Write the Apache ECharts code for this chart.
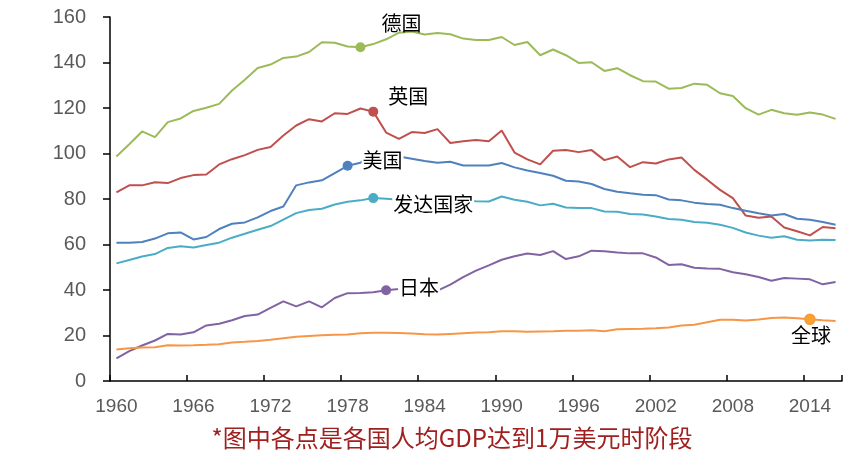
<!DOCTYPE html>
<html>
<head>
<meta charset="utf-8">
<script src="https://cdn.jsdelivr.net/npm/echarts@6/dist/echarts.min.js"></script>
<style>
  html, body { margin: 0; padding: 0; background: #fff; }
  #chart { width: 863px; height: 453px; }
</style>
</head>
<body>
<div id="chart"></div>
<script>
var years = ['1960','1961','1962','1963','1964','1965','1966','1967','1968','1969',
  '1970','1971','1972','1973','1974','1975','1976','1977','1978','1979',
  '1980','1981','1982','1983','1984','1985','1986','1987','1988','1989',
  '1990','1991','1992','1993','1994','1995','1996','1997','1998','1999',
  '2000','2001','2002','2003','2004','2005','2006','2007','2008','2009',
  '2010','2011','2012','2013','2014','2015','2016'];

var germany = [98.7,104.1,109.7,107.2,113.8,115.4,118.7,120.1,121.8,127.7,
  132.4,137.6,139.1,142,142.6,144.6,148.9,148.7,147,146.7,
  148.1,150.2,153.1,153.6,152.3,153,152.4,150.5,149.9,149.9,
  151.2,147.7,149,143.2,145.7,143.2,139.8,140.1,136.3,137.5,
  134.4,131.8,131.6,128.5,128.8,130.7,130.2,126.5,125.3,119.9,
  117.1,119.2,117.7,117,118,117.1,115.2];

var uk = [82.9,86,86,87.4,87,89.2,90.5,90.8,95.2,97.5,
  99.3,101.6,102.9,107.9,112.3,115.1,114.1,117.7,117.4,119.8,
  118.4,109.2,106.4,109.4,109,110.7,104.6,105.4,105.9,105.4,
  110.1,100.4,97.4,95.2,101.2,101.5,100.6,101.5,97.1,98.7,
  94,96.2,95.6,97.4,98.2,92.8,88.5,84,80.4,72.7,
  71.8,72.3,67.5,65.8,64,67.7,67.1];

var usa = [60.8,60.8,61.1,62.6,64.9,65.3,62.2,63.3,66.8,69.1,
  69.7,71.9,74.7,76.7,86,87.3,88.2,91.4,94.6,95.9,
  100.2,99.9,98.7,97.7,96.7,95.9,96.4,94.7,94.7,94.7,
  95.8,93.9,92.5,91.4,90.2,88,87.7,86.6,84.4,83.2,
  82.5,81.9,81.7,79.8,79.4,78.4,77.8,77.5,76,74.8,
  73.7,72.7,73.4,71.3,70.9,69.9,68.7];

var developed = [51.7,53.2,54.7,55.8,58.5,59.2,58.7,59.8,60.8,63,
  64.7,66.5,68.1,70.9,73.8,75.2,75.7,77.6,78.8,79.4,
  80.4,80.1,79.7,79.5,79.3,79.2,79.5,79.2,79,78.9,
  81.1,79.7,78.8,77.2,77.9,76.3,76,76,74.5,74.4,
  73.4,73.2,72.3,71.2,70.9,69.9,69.6,68.7,67.3,65.3,
  63.9,63,63.6,62.1,61.8,62.1,62];

var japan = [9.9,13.1,15.6,17.8,20.7,20.4,21.4,24.4,25.2,26.7,
  28.6,29.2,32.1,35,32.8,35,32.4,36.5,38.6,38.7,
  39,39.9,40.4,41.4,39.2,39.7,42.4,45.7,48.5,50.8,
  53.3,54.8,56,55.4,57.1,53.6,54.8,57.3,57,56.5,
  56.1,56.1,54.3,51,51.3,49.8,49.4,49.3,47.8,46.9,
  45.7,44.1,45.3,45,44.7,42.5,43.5];

var world = [13.8,14.4,14.7,14.8,15.7,15.6,15.7,15.9,16.2,16.9,
  17.2,17.6,18.1,18.8,19.4,19.8,20.1,20.3,20.4,21,
  21.2,21.2,21.1,20.9,20.6,20.4,20.7,21,21.3,21.4,
  21.9,21.9,21.6,21.8,21.9,22.1,22.1,22.3,21.9,22.7,
  22.9,23,23.2,23.5,24.4,24.7,25.8,26.9,26.9,26.6,
  27,27.7,27.9,27.6,27.1,26.7,26.4];

// year each one reached 10k USD GDP per capita
var names = ['德国', '英国', '美国', '发达国家', '日本', '全球'];
var markYears = ['1979', '1980', '1978', '1980', '1981', '2014'];
var yTicks = [0, 20, 40, 60, 80, 100, 120, 140, 160];

var colors = ['#9BBB59', '#C0504D', '#4F81BD', '#4BACC6', '#8064A2', '#F79646'];
var labelOffsets = [[41, -24], [35, -15], [35, -5], [60, 6], [33, -3], [1, 16]];
var labelBg = [false, false, true, true, true, false];
var allData = [germany, uk, usa, developed, japan, world];

var chart = echarts.init(document.getElementById('chart'));

var series = allData.map(function (vals, k) {
  var idx = years.indexOf(markYears[k]);
  return {
    name: names[k],
    type: 'line',
    data: vals,
    symbol: 'none',
    lineStyle: { color: colors[k], width: 2 },
    itemStyle: { color: colors[k] },
    markPoint: {
      symbol: 'circle',
      symbolSize: 10,
      itemStyle: k === 5 ? { color: '#F8A52A', borderColor: '#F79646', borderWidth: 1.5 } : { color: colors[k] },
      label: {
        show: true,
        formatter: names[k],
        position: 'inside',
        offset: labelOffsets[k],
        color: '#000',
        fontSize: 20,
        fontFamily: 'Noto Sans CJK SC',
        backgroundColor: labelBg[k] ? '#fff' : 'transparent',
        padding: [0, 1]
      },
      data: [{ coord: [years[idx], vals[idx]] }]
    }
  };
});

chart.setOption({
  animation: false,
  grid: { left: 110, right: 21, top: 17, bottom: 72 },
  xAxis: {
    type: 'category',
    data: years,
    boundaryGap: true,
    axisLine: { lineStyle: { color: '#000', width: 1.5 } },
    axisTick: { show: true, inside: true, interval: 5, length: 6, lineStyle: { color: '#000', width: 1.5 } },
    axisLabel: { interval: 5, color: '#595959', fontSize: 19, fontFamily: 'Liberation Sans', margin: 16 }
  },
  yAxis: {
    type: 'value',
    min: yTicks[0],
    max: yTicks[yTicks.length - 1],
    interval: 20,
    splitLine: { show: false },
    axisLine: { show: true, lineStyle: { color: '#000', width: 1.5 } },
    axisTick: { show: true, length: 7, lineStyle: { color: '#000', width: 1.5 } },
    axisLabel: { color: '#595959', fontSize: 20, fontFamily: 'Liberation Sans', margin: 24 }
  },
  graphic: [{
    type: 'text',
    x: 452,
    y: 438,
    style: {
      text: '*图中各点是各国人均GDP达到1万美元时阶段',
      fill: '#A0201F',
      fontSize: 24,
      fontFamily: 'Noto Sans CJK SC',
      align: 'center',
      verticalAlign: 'middle'
    }
  }],
  series: series
});
</script>
</body>
</html>
